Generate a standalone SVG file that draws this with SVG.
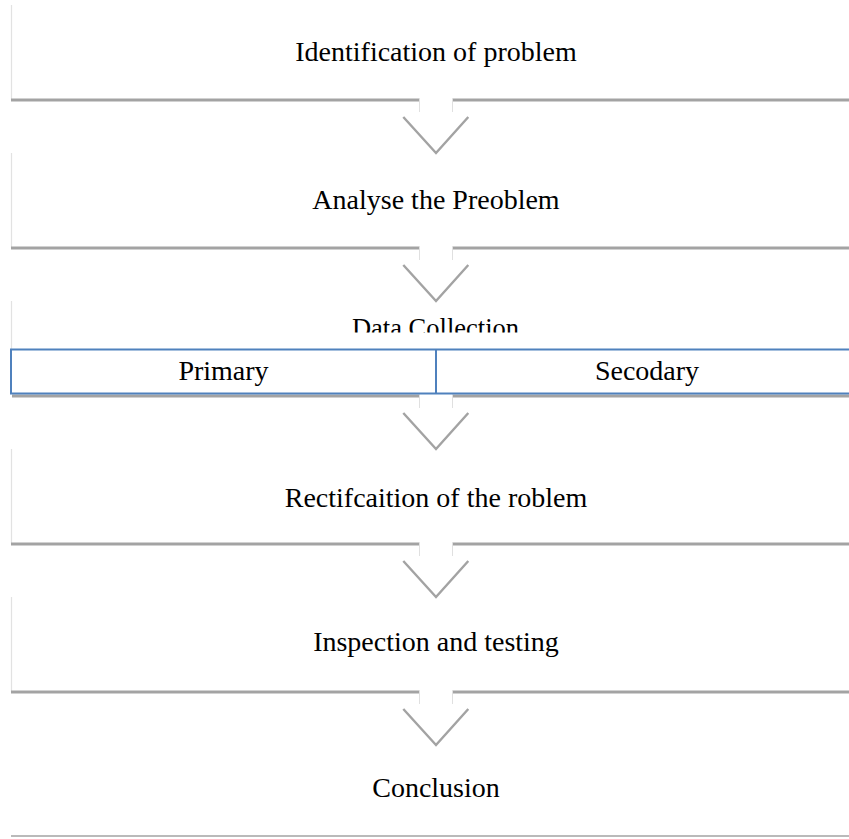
<svg xmlns="http://www.w3.org/2000/svg" width="849" height="839" viewBox="0 0 849 839">
<style>
.bg{fill:#ffffff}
.lb{stroke:#e2e2e2;stroke-width:1.2;fill:none}
.bl{stroke:#a3a3a3;stroke-width:3.2;fill:none}
.gp{stroke:#e0e0e0;stroke-width:1;fill:none}
.ch{stroke:#a3a3a3;stroke-width:2.4;fill:none;stroke-linejoin:miter}
.t{font-family:"Liberation Serif","Times New Roman",serif;font-size:28px;fill:#000;text-anchor:middle}
.blue{stroke:#4f81bd;stroke-width:2;fill:#fff}
</style>
<defs>
<clipPath id="dcclip"><rect x="0" y="300" width="849" height="32.5"/></clipPath>
</defs>
<rect class="bg" x="0" y="0" width="849" height="839"/>

<g id="node1">
<line class="lb" x1="11.5" y1="5" x2="11.5" y2="100"/>
<path class="bl" d="M11 100H419.5M452.5 100H849"/>
<path class="gp" d="M419.5 98.5V112M452.5 98.5V112"/>
<text class="t" x="436" y="60.5">Identification of problem</text>
</g>

<g id="node2">
<line class="lb" x1="11.5" y1="153" x2="11.5" y2="248"/>
<path class="bl" d="M11 248H419.5M452.5 248H849"/>
<path class="gp" d="M419.5 246.5V260M452.5 246.5V260"/>
<text class="t" x="436" y="208.5">Analyse the Preoblem</text>
</g>

<g id="node3">
<line class="lb" x1="11.5" y1="301" x2="11.5" y2="349"/>
<text class="t" x="435.5" y="336.5" style="font-size:26.5px" clip-path="url(#dcclip)">Data Collection</text>
<path class="bl" d="M12 396H419.5M452.5 396H849"/>
<path class="gp" d="M419.5 394.5V408M452.5 394.5V408"/>
<rect class="blue" x="11" y="349.5" width="860" height="44"/>
<line class="blue" x1="436" y1="349.5" x2="436" y2="393.5"/>
<text class="t" x="223.5" y="380">Primary</text>
<text class="t" x="647" y="380">Secodary</text>
</g>

<g id="node4">
<line class="lb" x1="11.5" y1="449" x2="11.5" y2="544"/>
<path class="bl" d="M11 544H419.5M452.5 544H849"/>
<path class="gp" d="M419.5 542.5V556M452.5 542.5V556"/>
<text class="t" x="436" y="507">Rectifcaition of the roblem</text>
</g>

<g id="node5">
<line class="lb" x1="11.5" y1="597" x2="11.5" y2="692"/>
<path class="bl" d="M11 692H419.5M452.5 692H849"/>
<path class="gp" d="M419.5 690.5V704M452.5 690.5V704"/>
<text class="t" x="436" y="651">Inspection and testing</text>
</g>

<g id="node6">
<line x1="11" y1="836" x2="849" y2="836" stroke="#a3a3a3" stroke-width="1.6"/>
<text class="t" x="436" y="797">Conclusion</text>
</g>

<g id="connectors">
<polyline class="ch" points="403.3,117 436,153 468.3,117"/>
<polyline class="ch" points="403.3,265 436,301 468.3,265"/>
<polyline class="ch" points="403.3,413 436,449 468.3,413"/>
<polyline class="ch" points="403.3,561 436,597 468.3,561"/>
<polyline class="ch" points="403.3,709 436,745 468.3,709"/>
</g>
</svg>
